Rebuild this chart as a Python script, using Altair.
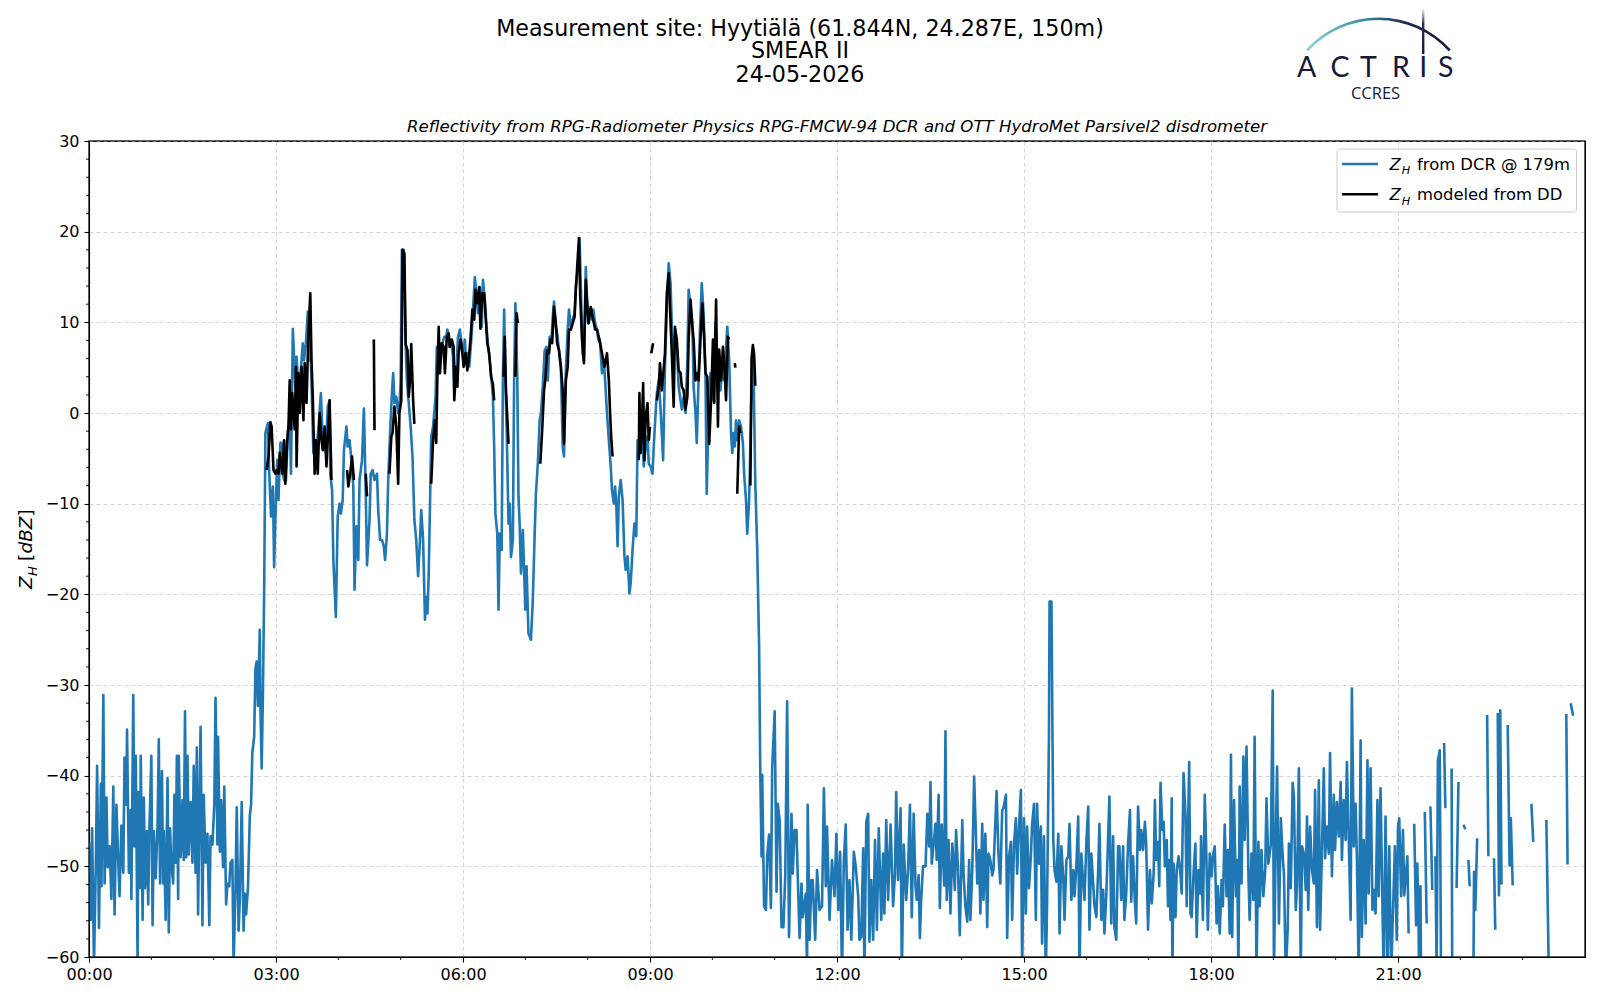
import altair as alt
import pandas as pd

# ---------------- data (hour of day, reflectivity dBZ); None = data gap ----------------
dcr_night = [
    (0.00, -47.3), (0.03, -55.9), (0.05, -45.8), (0.08, -61.0), (0.11, -49.6), (0.13, -38.9),
    (0.16, -56.8), (0.19, -40.9), (0.20, -52.2), (0.23, -31.1), (0.25, -51.9), (0.28, -42.4),
    (0.30, -50.1), (0.33, -47.8), (0.36, -53.6), (0.39, -41.2), (0.41, -55.3), (0.44, -43.2),
    (0.47, -49.6), (0.49, -53.3), (0.52, -45.5), (0.55, -50.7), (0.57, -38.0), (0.60, -43.2),
    (0.61, -34.9), (0.64, -50.7), (0.67, -43.8), (0.68, -53.6), (0.71, -31.1), (0.73, -47.8),
    (0.75, -37.8), (0.78, -61.0), (0.79, -41.8), (0.82, -52.4), (0.83, -37.8), (0.86, -55.9),
    (0.88, -42.4), (0.90, -52.4), (0.93, -46.1), (0.95, -54.2), (0.97, -45.8), (1.00, -37.8),
    (1.02, -56.5), (1.04, -46.1), (1.07, -51.3), (1.10, -45.5), (1.12, -36.0), (1.14, -51.9),
    (1.17, -39.5), (1.19, -51.9), (1.20, -46.1), (1.23, -55.9), (1.26, -40.3), (1.28, -57.3),
    (1.30, -45.8), (1.32, -49.6), (1.35, -51.9), (1.37, -42.1), (1.39, -49.6), (1.41, -37.8),
    (1.43, -53.6), (1.44, -37.8), (1.47, -49.0), (1.50, -42.7), (1.52, -49.3), (1.54, -32.9),
    (1.56, -49.0), (1.58, -37.8), (1.60, -48.7), (1.63, -42.9), (1.66, -49.6), (1.68, -38.9),
    (1.71, -50.7), (1.73, -36.9), (1.75, -55.3), (1.77, -45.0), (1.79, -34.6), (1.82, -56.5),
    (1.84, -42.1), (1.87, -49.6), (1.90, -46.4), (1.93, -56.5), (1.95, -46.7), (1.98, -47.6),
    (2.01, -43.2), (2.03, -31.4), (2.06, -47.6), (2.07, -35.7), (2.10, -48.4), (2.12, -42.7),
    (2.15, -50.1), (2.17, -41.2), (2.20, -54.2), (2.22, -51.9), (2.25, -52.2), (2.27, -49.6),
    (2.30, -49.3), (2.32, -61.0), (2.35, -52.4), (2.37, -43.5), (2.40, -57.1), (2.42, -53.6),
    (2.45, -42.9), (2.48, -57.1), (2.50, -53.0), (2.52, -55.3), (2.55, -52.4), (2.58, -44.4),
    (2.60, -43.2), (2.62, -37.5), (2.65, -35.7), (2.67, -28.2), (2.69, -27.4), (2.71, -32.3),
    (2.74, -23.9), (2.75, -32.3), (2.77, -39.2), (2.79, -31.1), (2.81, -19.6),
]

dcr_rain = [
    (2.83, -2.2), (2.87, -1.1), (2.89, -6.3), (2.92, -11.4), (2.95, -8.1), (2.97, -17.0),
    (3.00, -9.2), (3.02, -5.2), (3.04, -9.6), (3.07, -3.3), (3.09, -3.3), (3.11, -6.7),
    (3.13, -7.4), (3.16, -7.4), (3.19, -2.2), (3.22, -0.4), (3.24, -6.7), (3.27, 9.3),
    (3.31, 2.9), (3.33, 6.2), (3.36, 2.5), (3.39, 4.0), (3.43, 7.7), (3.45, 5.8),
    (3.48, 7.7), (3.51, 11.2), (3.54, 5.8), (3.56, 5.8), (3.60, -4.4), (3.63, -3.0),
    (3.66, -3.3), (3.69, -0.8), (3.72, 2.2), (3.74, -1.5), (3.77, -3.7), (3.80, -4.4),
    (3.83, 0.7), (3.86, 1.4), (3.87, -6.7), (3.90, -8.5), (3.92, -16.2), (3.96, -22.5),
    (3.99, -11.4), (4.02, -10.0), (4.04, -11.1), (4.07, -9.6), (4.09, -4.1), (4.13, -1.5),
    (4.15, -3.7), (4.18, -3.0), (4.21, -5.2), (4.24, -8.1), (4.26, -19.5), (4.29, -12.5),
    (4.32, -16.2), (4.34, -7.4), (4.38, -5.2), (4.41, 0.5), (4.44, -8.9), (4.46, -16.8),
    (4.50, -11.8), (4.52, -6.7), (4.55, -6.3), (4.58, -7.4), (4.62, -6.7), (4.64, -10.7),
    (4.67, -14.0), (4.70, -14.0), (4.73, -14.7), (4.75, -16.2), (4.78, -13.3), (4.80, -7.4),
    (4.83, -2.2), (4.86, 2.2), (4.88, 4.4), (4.90, 1.1), (4.93, 1.8), (4.96, 0.0),
    (4.98, 0.7), (5.00, 3.6), (5.02, 18.0), (5.05, 18.0), (5.08, 7.3), (5.10, 3.6),
    (5.13, 1.1), (5.16, -1.5), (5.19, -4.8), (5.22, -11.8), (5.25, -14.0), (5.28, -18.0),
    (5.31, -14.0), (5.33, -10.7), (5.36, -14.0), (5.39, -22.8), (5.41, -20.3), (5.43, -22.1),
    (5.45, -17.7), (5.47, -10.3), (5.49, -2.6), (5.52, -1.5), (5.56, 1.8), (5.58, 7.3),
    (5.61, 4.4), (5.64, 6.9), (5.67, 7.7), (5.70, 8.4), (5.73, 8.4), (5.75, 9.2),
    (5.78, 7.3), (5.81, 8.1), (5.84, 6.2), (5.86, 2.2), (5.89, 4.4), (5.92, 8.4),
    (5.95, 9.2), (5.97, 8.1), (6.00, 6.6), (6.03, 8.1), (6.05, 5.5), (6.08, 6.6),
    (6.10, 5.1), (6.14, 8.8), (6.16, 11.4), (6.19, 15.0), (6.21, 13.6), (6.24, 11.0),
    (6.27, 13.9), (6.30, 9.5), (6.32, 14.7), (6.35, 12.5), (6.38, 9.2), (6.41, 6.9),
    (6.44, 5.1), (6.48, 1.8), (6.50, -3.7), (6.52, -11.1), (6.55, -13.3), (6.57, -21.7),
    (6.59, -13.3), (6.62, -15.1), (6.64, 3.6), (6.66, 11.4), (6.68, 3.6), (6.70, -1.5),
    (6.73, -12.2), (6.75, -10.0), (6.77, -15.9), (6.80, -14.0), (6.82, 3.6), (6.84, 12.1),
    (6.87, 4.4), (6.89, -9.2), (6.91, -12.5), (6.93, -17.7), (6.96, -12.9), (6.98, -17.3),
    (7.00, -21.7), (7.02, -16.9), (7.05, -24.3), (7.09, -25.0), (7.12, -20.6), (7.15, -13.3),
    (7.17, -8.9), (7.20, -5.6), (7.23, -0.8), (7.25, 0.0), (7.28, 2.9), (7.31, 6.9),
    (7.34, 7.3), (7.36, 3.6), (7.39, 8.4), (7.42, 8.1), (7.44, 10.6), (7.46, 12.3),
    (7.49, 9.5), (7.51, 8.8), (7.54, 6.9), (7.57, 5.1), (7.60, -3.7), (7.62, -4.8),
    (7.65, 4.7), (7.68, 9.2), (7.70, 11.4), (7.73, 9.5), (7.76, 10.3), (7.79, 11.0),
    (7.81, 13.9), (7.84, 15.8), (7.87, 19.3), (7.89, 14.0), (7.92, 6.5), (7.94, 5.8),
    (7.97, 16.1), (7.99, 12.5), (8.02, 9.9), (8.04, 11.0), (8.07, 10.3), (8.09, 11.4),
    (8.12, 9.9), (8.15, 9.2), (8.17, 8.1), (8.20, 7.7), (8.23, 4.4), (8.26, 5.8),
    (8.28, 3.6), (8.31, 0.0), (8.34, -3.0), (8.37, -5.9), (8.39, -8.5), (8.42, -10.0),
    (8.44, -8.1), (8.46, -10.3), (8.48, -14.7), (8.50, -9.2), (8.53, -7.4), (8.56, -9.6),
    (8.59, -15.8), (8.61, -17.3), (8.64, -15.8), (8.67, -19.9), (8.69, -18.8), (8.72, -15.1),
    (8.75, -12.2), (8.78, -13.6), (8.80, -3.0), (8.82, -4.8), (8.84, -3.3), (8.87, -1.5),
    (8.90, -5.9), (8.92, -4.4), (8.96, -2.6), (8.98, -5.6), (9.01, -5.9), (9.04, -6.7),
    (9.06, -3.7), (9.09, 0.0), (9.11, 2.2), (9.14, 3.6), (9.17, 0.4), (9.20, -3.7),
    (9.21, -5.2), (9.24, 5.1), (9.27, 11.7), (9.30, 16.5), (9.33, 14.3), (9.36, 7.3),
    (9.38, 6.6), (9.40, 8.8), (9.43, 7.3), (9.46, 2.9), (9.49, 1.4), (9.51, 0.4),
    (9.54, 1.8), (9.57, 0.0), (9.60, 5.8), (9.62, 13.6), (9.65, 11.7), (9.68, 9.9),
    (9.70, 2.9), (9.73, 0.0), (9.75, -3.3), (9.78, 4.0), (9.80, 8.8), (9.83, 14.3),
    (9.86, 11.0), (9.89, 4.4), (9.91, -8.9), (9.94, 0.0), (9.97, 4.4), (9.99, 1.8),
    (10.02, 1.4), (10.05, 9.9), (10.08, 3.6), (10.10, 5.1), (10.13, 2.5), (10.16, 5.1),
    (10.19, 3.6), (10.21, 6.2), (10.24, 9.5), (10.27, 5.8), (10.30, -2.2), (10.32, -4.4),
    (10.34, -2.2), (10.36, -3.7), (10.38, -0.8), (10.40, -3.0), (10.43, -0.8), (10.46, -1.5),
    (10.49, -3.3), (10.51, -6.7), (10.54, -9.6), (10.56, -13.3), (10.59, -9.6), (10.61, -3.7),
    (10.64, 6.6), (10.66, 5.0), (10.69, -8.0), (10.72, -15.0), (10.75, -25.6), (10.77, -40.0),
]

dcr_after = [
    (10.79, -48.9), (10.80, -39.9), (10.83, -54.4), (10.86, -54.8), (10.88, -48.9), (10.91, -46.5),
    (10.94, -54.6), (10.96, -39.2), (11.00, -32.9), (11.03, -52.8), (11.05, -43.1), (11.08, -44.9),
    (11.11, -56.7), (11.14, -56.7), (11.17, -51.0), (11.20, -31.8), (11.23, -57.8), (11.27, -44.2),
    (11.29, -50.8), (11.32, -46.0), (11.35, -46.0), (11.37, -51.1), (11.40, -57.9), (11.43, -51.9),
    (11.45, -55.6), (11.50, -53.0), (11.52, -62.0), (11.53, -43.2), (11.56, -58.1), (11.59, -51.5),
    (11.61, -51.5), (11.65, -58.1), (11.68, -50.4), (11.72, -54.8), (11.76, -54.4), (11.79, -41.4),
    (11.82, -52.2), (11.84, -45.6), (11.88, -55.9), (11.92, -49.3), (11.96, -53.3), (11.99, -46.4),
    (12.02, -54.8), (12.05, -48.4), (12.08, -62.0), (12.11, -49.3), (12.14, -45.4), (12.17, -57.0),
    (12.20, -51.5), (12.23, -58.1), (12.27, -48.4), (12.30, -50.0), (12.34, -53.3), (12.36, -58.1),
    (12.39, -57.8), (12.42, -48.0), (12.44, -62.0), (12.47, -45.1), (12.50, -44.2), (12.52, -58.3),
    (12.55, -51.5), (12.58, -58.1), (12.61, -47.1), (12.64, -57.0), (12.67, -45.8), (12.71, -55.9),
    (12.74, -48.6), (12.76, -55.2), (12.79, -44.9), (12.82, -53.7), (12.86, -45.4), (12.90, -54.4),
    (12.93, -50.8), (12.95, -41.8), (12.98, -51.5), (13.02, -43.6), (13.04, -62.0), (13.07, -47.6),
    (13.11, -53.7), (13.14, -50.4), (13.17, -43.2), (13.20, -55.6), (13.23, -44.2), (13.26, -52.2),
    (13.28, -53.7), (13.31, -51.0), (13.33, -57.9), (13.35, -53.7), (13.38, -50.0), (13.42, -50.0),
    (13.45, -44.2), (13.48, -47.8), (13.50, -40.7), (13.52, -49.7), (13.55, -47.5), (13.58, -45.3),
    (13.60, -49.3), (13.63, -42.1), (13.65, -54.6), (13.68, -45.4), (13.72, -52.1), (13.74, -35.1),
    (13.76, -53.7), (13.79, -47.1), (13.82, -55.2), (13.85, -47.5), (13.89, -52.6), (13.91, -46.0),
    (13.94, -50.0), (13.97, -57.6), (14.01, -44.9), (14.03, -50.8), (14.06, -54.4), (14.09, -56.1),
    (14.12, -49.3), (14.14, -55.9), (14.17, -50.4), (14.20, -40.1), (14.22, -44.5), (14.25, -51.9),
    (14.28, -48.2), (14.30, -55.2), (14.33, -45.3), (14.35, -53.7), (14.38, -46.4), (14.41, -56.7),
    (14.43, -48.6), (14.46, -49.3), (14.49, -51.0), (14.51, -50.4), (14.56, -41.7), (14.59, -48.6),
    (14.62, -51.9), (14.65, -43.8), (14.67, -43.6), (14.71, -42.1), (14.73, -57.9), (14.76, -48.9),
    (14.79, -47.3), (14.81, -55.9), (14.84, -47.5), (14.87, -44.7), (14.89, -50.8), (14.92, -45.6),
    (14.95, -41.6), (14.97, -62.0), (15.00, -44.7), (15.03, -55.2), (15.05, -45.6), (15.08, -52.4),
    (15.11, -48.9), (15.13, -45.4), (15.16, -43.1), (15.19, -55.9), (15.21, -43.1), (15.24, -49.7),
    (15.27, -45.6), (15.29, -58.5), (15.32, -46.7), (15.35, -62.0), (15.37, -54.4), (15.40, -35.7),
    (15.41, -20.8), (15.44, -20.8), (15.47, -47.1), (15.49, -50.4), (15.52, -51.7), (15.55, -46.4),
    (15.57, -57.4), (15.60, -47.8), (15.63, -51.3), (15.65, -55.9), (15.68, -49.3), (15.71, -48.9),
    (15.73, -45.3), (15.76, -53.7), (15.79, -50.4), (15.81, -53.3), (15.84, -50.0), (15.87, -44.5),
    (15.89, -62.0), (15.92, -48.6), (15.95, -51.9), (15.97, -53.7), (16.00, -47.5), (16.03, -43.4),
    (16.05, -57.0), (16.08, -48.6), (16.11, -51.9), (16.13, -54.3), (16.16, -55.6), (16.19, -50.4),
    (16.21, -45.3), (16.24, -55.9), (16.27, -52.6), (16.29, -57.4), (16.32, -53.3), (16.35, -46.7),
    (16.37, -42.3), (16.40, -56.3), (16.43, -46.7), (16.45, -56.7), (16.48, -58.1), (16.51, -47.8),
    (16.53, -47.8), (16.56, -53.7), (16.59, -47.8), (16.61, -55.9), (16.64, -53.0), (16.67, -47.5),
    (16.70, -43.8), (16.72, -53.9), (16.75, -48.9), (16.78, -54.1), (16.80, -56.3), (16.83, -43.4),
    (16.86, -48.2), (16.88, -46.0), (16.91, -48.2), (16.94, -45.1), (16.96, -47.5), (16.99, -57.0),
    (17.02, -50.4), (17.05, -54.1), (17.08, -50.8), (17.10, -42.7), (17.12, -49.3), (17.15, -47.3),
    (17.17, -52.2), (17.19, -40.8), (17.22, -46.0), (17.24, -45.1), (17.26, -50.0), (17.29, -47.1),
    (17.31, -54.4), (17.33, -49.3), (17.35, -55.9), (17.37, -42.5), (17.38, -62.0), (17.40, -49.7),
    (17.43, -55.6), (17.45, -50.4), (17.48, -48.9), (17.51, -50.8), (17.53, -53.0), (17.56, -39.7),
    (17.59, -44.2), (17.61, -54.4), (17.65, -38.5), (17.67, -55.2), (17.69, -55.6), (17.72, -50.8),
    (17.75, -47.5), (17.77, -57.8), (17.80, -50.4), (17.83, -53.0), (17.84, -46.7), (17.87, -55.9),
    (17.90, -42.1), (17.92, -47.1), (17.95, -57.0), (17.98, -48.6), (18.01, -51.1), (18.03, -48.9),
    (18.06, -47.8), (18.09, -56.3), (18.11, -52.2), (18.14, -57.4), (18.17, -51.5), (18.19, -54.4),
    (18.22, -45.4), (18.25, -53.3), (18.27, -48.2), (18.30, -57.4), (18.32, -37.7), (18.34, -57.8),
    (18.37, -42.7), (18.40, -53.3), (18.42, -49.3), (18.44, -62.0), (18.46, -41.2), (18.49, -51.9),
    (18.52, -37.9), (18.54, -47.1), (18.57, -36.8), (18.60, -50.8), (18.62, -55.9), (18.65, -48.6),
    (18.68, -53.7), (18.70, -35.7), (18.73, -62.0), (18.76, -47.3), (18.78, -54.4), (18.81, -48.2),
    (18.84, -53.3), (18.87, -50.4), (18.89, -42.5), (18.92, -49.7), (18.96, -47.6), (18.99, -30.6),
    (19.01, -62.0), (19.04, -46.4), (19.06, -39.0), (19.09, -56.3), (19.12, -44.7), (19.15, -48.9),
    (19.17, -50.8), (19.20, -62.0), (19.23, -57.0), (19.25, -47.5), (19.28, -52.4), (19.31, -40.8),
    (19.33, -42.3), (19.36, -54.8), (19.38, -52.2), (19.41, -39.2), (19.44, -62.0), (19.46, -47.8),
    (19.49, -48.6), (19.52, -52.6), (19.54, -44.5), (19.56, -54.8), (19.59, -45.6), (19.62, -50.4),
    (19.65, -51.9), (19.67, -41.6), (19.70, -56.7), (19.73, -40.5), (19.75, -57.0), (19.78, -48.2),
    (19.81, -39.2), (19.83, -49.1), (19.86, -45.6), (19.89, -48.6), (19.91, -37.5), (19.94, -51.1),
    (19.97, -42.1), (19.99, -48.2), (20.02, -42.9), (20.05, -46.7), (20.08, -40.7), (20.10, -49.3),
    (20.13, -42.7), (20.16, -47.1), (20.18, -38.5), (20.21, -47.1), (20.24, -55.9), (20.26, -30.4),
    (20.29, -47.8), (20.32, -43.1), (20.34, -48.9), (20.37, -62.0), (20.40, -36.1), (20.42, -57.8),
    (20.45, -47.1), (20.48, -56.3), (20.51, -38.3), (20.53, -53.0), (20.56, -39.2), (20.59, -54.8),
    (20.61, -52.6), (20.64, -55.2), (20.67, -42.7), (20.69, -53.3), (20.72, -41.4), (20.75, -54.3),
    (20.77, -62.0), (20.80, -44.5), (20.83, -62.0), (20.86, -47.8), (20.89, -62.0), (20.95, -47.8),
    (20.98, -58.1), (21.00, -45.6), (21.02, -44.7), (21.05, -53.3), (21.08, -46.0), (21.10, -53.2),
    (21.15, -48.9), (21.17, -57.4), None,
    (21.26, -45.3), (21.29, -56.5), (21.31, -49.7), (21.33, -56.7), (21.34, -62.0), (21.36, -52.2),
    (21.37, -62.0), None,
    (21.43, -44.0), (21.46, -56.3), None,
    (21.52, -43.4), (21.55, -52.6), None,
    (21.60, -48.9), (21.62, -62.0), (21.64, -38.3), (21.67, -37.2), (21.69, -62.0), None,
    (21.74, -36.4), (21.76, -43.6), None,
    (21.86, -39.2), (21.87, -62.0), None,
    (21.94, -52.4), (21.97, -40.7), None,
    (22.05, -45.4), (22.08, -45.9), None,
    (22.13, -49.3), (22.15, -52.2), None,
    (22.21, -62.0), (22.22, -50.6), (22.24, -54.8), (22.27, -46.9), None,
    (22.43, -33.3), (22.45, -48.9), None,
    (22.54, -49.1), (22.56, -57.0), None,
    (22.60, -33.1), (22.62, -53.2), (22.64, -32.8), (22.66, -52.0), None,
    (22.76, -34.4), (22.79, -49.9), (22.81, -44.7), (22.84, -52.1), None,
    (23.14, -43.1), (23.17, -47.3), None,
    (23.38, -44.9), (23.42, -62.0), None,
    (23.70, -33.2), (23.72, -49.8), None,
    (23.77, -32.0), (23.81, -33.4),
]

dd_modeled = [
    (2.85, -6.3), (2.88, -4.8), (2.91, -1.0), (2.93, -1.5), (2.96, -6.3), (2.99, -6.7),
    (3.01, -6.3), (3.04, -6.7), (3.06, -4.4), (3.10, -6.7), (3.13, -3.0), (3.15, -7.8),
    (3.18, -3.0), (3.20, -1.5), (3.22, 3.6), (3.24, -1.8), (3.26, 2.2), (3.30, -1.8),
    (3.32, 5.1), (3.33, -5.9), (3.36, 4.4), (3.38, 0.0), (3.41, 5.1), (3.44, -0.8),
    (3.46, 5.5), (3.49, 1.1), (3.52, 8.8), (3.55, 13.2), (3.57, 5.8), (3.59, 1.8),
    (3.62, -6.7), (3.64, -3.0), (3.67, -6.7), (3.70, 0.0), (3.73, -3.0), (3.75, -4.1),
    (3.78, -1.5), (3.81, -5.9), (3.84, -1.5), (3.86, 1.4), (3.89, -7.4), None,
    (4.14, -6.3), (4.16, -8.1), (4.19, -6.7), (4.22, -4.8), (4.25, -7.4), None,
    (4.44, -6.7), (4.46, -9.2), None,
    (4.57, 8.1), (4.58, -1.9), None,
    (4.82, -6.7), (4.85, -2.6), (4.87, -2.2), (4.90, 0.7), (4.93, -1.5), (4.96, -7.8),
    (4.98, 0.0), (5.01, 1.4), (5.03, 18.0), (5.06, 17.6), (5.08, 7.6), (5.11, 6.9),
    (5.13, 1.8), (5.15, 3.6), (5.17, 7.6), (5.20, 1.4), (5.22, -1.2), None,
    (5.49, -7.8), (5.52, -3.0), (5.55, -0.8), (5.57, -3.3), (5.59, 4.4), (5.61, 9.5),
    (5.63, 4.4), (5.66, 7.7), (5.69, 7.3), (5.71, 4.4), (5.74, 8.4), (5.77, 8.8),
    (5.79, 7.3), (5.82, 8.1), (5.85, 7.3), (5.86, 1.4), (5.89, 5.1), (5.91, 2.9),
    (5.93, 6.6), (5.96, 8.1), (5.98, 7.3), (6.01, 5.1), (6.04, 6.6), (6.07, 4.7),
    (6.09, 5.8), (6.12, 8.1), (6.15, 11.4), (6.18, 10.3), (6.20, 13.6), (6.23, 12.1),
    (6.26, 13.9), (6.28, 9.3), (6.31, 13.2), (6.34, 13.2), (6.37, 9.9), (6.39, 7.7),
    (6.42, 6.6), (6.45, 4.0), (6.48, 3.2), (6.50, 1.4), None,
    (6.65, 4.0), (6.67, 8.4), (6.69, 2.5), (6.73, -3.4), None,
    (6.84, 4.0), (6.86, 11.0), (6.88, 9.9), None,
    (7.24, -5.6), (7.27, -1.9), (7.30, 2.5), (7.32, 3.6), (7.35, 6.9), (7.38, 6.6),
    (7.40, 8.1), (7.43, 7.7), (7.46, 11.7), (7.49, 9.9), (7.51, 7.7), (7.54, 6.9),
    (7.57, 5.1), (7.60, 2.5), (7.62, -3.4), (7.65, 3.6), (7.68, 5.1), (7.70, 9.2),
    (7.73, 9.2), (7.76, 9.9), (7.79, 10.6), (7.81, 13.6), (7.84, 17.0), (7.86, 19.3),
    (7.88, 13.0), (7.91, 8.0), (7.94, 5.5), (7.97, 14.7), (8.01, 9.9), (8.05, 11.7),
    (8.08, 10.6), (8.12, 9.2), (8.15, 9.2), (8.19, 8.1), (8.23, 6.6), (8.27, 5.1),
    (8.31, 6.6), (8.34, 3.6), (8.36, 0.0), (8.38, -3.0), (8.40, -4.8), None,
    (8.82, -5.2), (8.83, 2.2), (8.85, -4.4), (8.87, -1.5), (8.89, 3.3), (8.91, -5.2),
    (8.93, -0.4), (8.96, 1.1), (8.98, -3.0), (9.00, -1.5), None,
    (9.02, 6.6), (9.05, 7.7), None,
    (9.11, 1.4), (9.14, 2.9), (9.16, 5.5), (9.19, 2.5), (9.24, 6.6), (9.27, 13.2),
    (9.30, 15.4), (9.32, 11.7), (9.35, 6.6), (9.38, 0.7), (9.40, 9.5), (9.43, 8.1),
    (9.46, 4.7), (9.49, 4.4), (9.51, 2.9), (9.54, 2.5), (9.57, 0.4), (9.60, 1.8),
    (9.62, 8.1), (9.65, 12.5), (9.68, 9.5), (9.70, 8.1), (9.73, 3.6), (9.76, 4.4),
    (9.78, 3.6), (9.81, 8.1), (9.84, 12.1), (9.87, 8.1), (9.89, 4.4), (9.92, 4.0),
    (9.95, -3.4), (9.98, 1.4), (10.01, 8.1), (10.03, 1.1), (10.06, 12.5), (10.09, -1.5),
    (10.11, 7.0), (10.14, 3.6), (10.17, 7.3), (10.19, 5.8), (10.22, 1.4), (10.25, 8.4),
    (10.27, 8.1), None,
    (10.36, 5.5), (10.37, 5.0), None,
    (10.40, -8.9), (10.43, -1.5), (10.45, -2.2), None,
    (10.61, -8.0), (10.63, 6.0), (10.65, 7.5), (10.67, 6.5), (10.69, 3.0),
]

x_major = [0, 3, 6, 9, 12, 15, 18, 21]
x_minor = [1, 2, 4, 5, 7, 8, 10, 11, 13, 14, 16, 17, 19, 20, 22, 23]
y_major = [-60, -50, -40, -30, -20, -10, 0, 10, 20, 30]
y_minor = [v for v in range(-58, 30, 2) if v % 10 != 0]

title_lines = ["Measurement site: Hyytiälä (61.844N, 24.287E, 150m)", "SMEAR II", "24-05-2026"]
subtitle = ("Reflectivity from RPG-Radiometer Physics RPG-FMCW-94 DCR and "
            "OTT HydroMet Parsivel2 disdrometer")
legend_rest = ["from DCR @ 179m", "modeled from DD"]
logo_letters = ["A", "C", "T", "R", "I", "S"]

# ---------------- helpers ----------------
def to_frame(points):
    rows, seg = [], 0
    for p in points:
        if p is None:
            seg += 1
            continue
        rows.append({"hour": p[0], "dbz": p[1], "seg": seg})
    return pd.DataFrame(rows)


dcr_df = to_frame(dcr_night + dcr_rain + dcr_after)
dd_df = to_frame(dd_modeled)

W, H = 1496, 816
FONT = "DejaVu Sans"
BLUE = "#1f77b4"
NAVY = "#15173b"

xscale = alt.Scale(domain=[0, 24], nice=False, zero=False)
yscale = alt.Scale(domain=[-60, 30], nice=False, zero=False)
xaxis = alt.Axis(values=x_major, title=None,
                 labelExpr="(datum.value < 10 ? '0' : '') + datum.value + ':00'",
                 grid=True, gridDash=[4, 3], gridColor="#cfcfcf", gridWidth=0.9,
                 tickSize=5, tickColor="black", tickWidth=1.1,
                 domainColor="black", domainWidth=1.1,
                 labelFont=FONT, labelFontSize=16, labelColor="black",
                 labelPadding=4, labelFlush=False, labelOverlap=False)
yaxis = alt.Axis(values=y_major, title=None,
                 labelExpr="replace(datum.label, '-', '\u2212')",
                 grid=True, gridDash=[4, 3], gridColor="#cfcfcf", gridWidth=0.9,
                 tickSize=5, tickColor="black", tickWidth=1.1,
                 domainColor="black", domainWidth=1.1,
                 labelFont=FONT, labelFontSize=16, labelColor="black",
                 labelPadding=5, labelFlush=False, labelOverlap=False)
X = alt.X("hour:Q", scale=xscale, axis=xaxis)
Y = alt.Y("dbz:Q", scale=yscale, axis=yaxis)

dcr_line = alt.Chart(dcr_df).mark_line(color=BLUE, strokeWidth=2.6, clip=True,
                                       strokeJoin="round").encode(
    x=X, y=Y, detail="seg:N")
dd_line = alt.Chart(dd_df).mark_line(color="black", strokeWidth=2.6, clip=True,
                                     strokeJoin="round").encode(
    x=X, y=Y, detail="seg:N")

xminor_ticks = alt.Chart(pd.DataFrame({"hour": x_minor})).mark_rule(
    color="black", strokeWidth=0.9).encode(x=X, y=alt.value(H), y2=alt.value(H + 3))
yminor_ticks = alt.Chart(pd.DataFrame({"dbz": y_minor})).mark_rule(
    color="black", strokeWidth=0.9).encode(y=Y, x=alt.value(-3), x2=alt.value(0))

one = pd.DataFrame({"a": [0]})
# solid frame around the plot area (drawn over the dashed grid lines)
frame = alt.Chart(one).mark_rect(fill=None, fillOpacity=0, stroke="black",
                                 strokeWidth=1.1).encode(
    x=alt.value(0), x2=alt.value(W), y=alt.value(0), y2=alt.value(H))


def label(text, x, y, size=16, align="left", style="normal", dy=0, angle=0,
          font=FONT, color="black", weight="normal"):
    return alt.Chart(pd.DataFrame({"t": [text]})).mark_text(
        align=align, baseline="alphabetic", fontSize=size, fontStyle=style,
        font=font, color=color, dy=dy, angle=angle, fontWeight=weight
    ).encode(x=alt.value(x), y=alt.value(y), text="t:N")


layers = [dcr_line, dd_line, xminor_ticks, yminor_ticks, frame]

# titles
for txt, yy in zip(title_lines, [-105.3, -82.8, -59.4]):
    layers.append(label(txt, 711, yy, size=22.2, align="center"))
layers.append(label(subtitle, W / 2, -9.4, size=16.6, align="center", style="italic"))

# y-axis title  Z_H [dBZ]  (rotated)
YT = -57
layers += [
    label("Z", YT, 448, size=18.5, style="italic", angle=270),
    label("H", YT, 435, size=13, style="italic", angle=270, dy=4.5),
    label("[", YT, 420, size=18.5, angle=270),
    label("dBZ", YT, 412.6, size=18.5, style="italic", angle=270),
    label("]", YT, 375.5, size=18.5, angle=270),
]

# legend
layers.append(alt.Chart(one).mark_rect(fill="white", fillOpacity=0.8, stroke="#cccccc",
                                       strokeWidth=1, cornerRadius=3).encode(
    x=alt.value(1248), x2=alt.value(1487.5), y=alt.value(8), y2=alt.value(71)))
for col, yc, rest in zip([BLUE, "black"], [23, 53.3], legend_rest):
    layers.append(alt.Chart(one).mark_rule(color=col, strokeWidth=2.6).encode(
        x=alt.value(1253), x2=alt.value(1289), y=alt.value(yc)))
    layers.append(label("Z", 1300.5, yc + 5.8, size=16.4, style="italic"))
    layers.append(label("H", 1312.8, yc + 5.8, size=11.3, style="italic", dy=4.5))
    layers.append(label(rest, 1328, yc + 5.8, size=16.4))

# ACTRIS / CCRES logo
arc_grad = alt.LinearGradient(gradient="linear", x1=0, x2=1, y1=0, y2=0, stops=[
    alt.GradientStop(color="#8ad6d0", offset=0),
    alt.GradientStop(color="#3b8e9c", offset=0.4),
    alt.GradientStop(color="#1d2a55", offset=0.68),
    alt.GradientStop(color=NAVY, offset=1)])
layers.append(alt.Chart(one).mark_arc(radius=97.6, radius2=95.0, theta=5.449, theta2=7.117,
                                      fill=arc_grad).encode(
    x=alt.value(1289.4), y=alt.value(-25.9)))
bar_grad = alt.LinearGradient(gradient="linear", x1=0, x2=0, y1=0, y2=1, stops=[
    alt.GradientStop(color="#ffffff", offset=0),
    alt.GradientStop(color="#2a2f5a", offset=0.35),
    alt.GradientStop(color=NAVY, offset=1)])
layers.append(alt.Chart(one).mark_rect(fill=bar_grad).encode(
    x=alt.value(1333), x2=alt.value(1335.4), y=alt.value(-133), y2=alt.value(-87)))
for ch, xx in zip(logo_letters, [1217.7, 1251, 1279.3, 1311.8, 1334.2, 1356.8]):
    layers.append(label(ch, xx, -64.3, size=28.5, align="center", font="Lato", color=NAVY))
layers.append(label("CCRES", 1286.5, -42, size=16.5, align="center", font="Open Sans",
                    color=NAVY))

chart = alt.layer(*layers).properties(
    width=W, height=H,
    padding={"left": 81, "top": 133, "right": 7, "bottom": 35},
    autosize=alt.AutoSizeParams(type="none"),
    background="white",
).configure_view(stroke="black", strokeWidth=1.1)

chart.save("out.html", embed_options={"renderer": "svg", "actions": False})
